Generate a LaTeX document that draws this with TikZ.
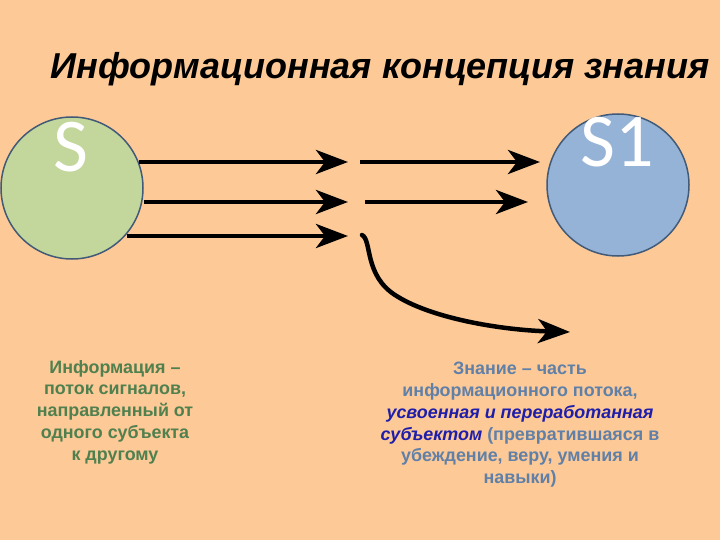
\documentclass[tikz,border=0pt]{standalone}
\usepackage{fontspec}
\setmainfont{Liberation Sans}
\newfontfamily\calib{Carlito}
\usetikzlibrary{arrows.meta}
\definecolor{bgc}{RGB}{252,201,151}
\definecolor{greenfill}{RGB}{195,214,155}
\definecolor{bluefill}{RGB}{149,179,215}
\definecolor{rimc}{RGB}{65,90,120}
\definecolor{greentxt}{RGB}{80,128,78}
\definecolor{graytxt}{RGB}{96,128,168}
\definecolor{bluetxt}{RGB}{30,30,170}
\tikzset{
  subj/.style={circle, draw=rimc, line width=1.5pt, minimum size=142pt, inner sep=0pt},
  lbl/.style={text=white, font=\calib\fontsize{76}{76}\selectfont, inner sep=0pt},
  flow/.style={line width=4.5pt, -{Stealth[length=32pt,width=24pt,inset=9pt]}},
  txt/.style={align=center, font=\bfseries\fontsize{17.9}{21.8}\selectfont, inner sep=0pt}
}
\begin{document}
\begin{tikzpicture}[x=1pt,y=-1pt]
\fill[bgc] (0,0) rectangle (720,540);
\useasboundingbox (0,0) rectangle (720,540);
\node[font=\bfseries\itshape\fontsize{36}{36}\selectfont, anchor=base] (title) at (380,79) {Информационная концепция знания};
\node[subj, fill=greenfill] (s) at (72,188) {};
\node[subj, fill=bluefill] (s1) at (618,185) {};
\node[lbl, anchor=base] (sl) at (71,172) {S};
\node[lbl, anchor=base] (s1l) at (617,167) {S1};
\coordinate (a1s) at (139,162); \coordinate (a1e) at (348,162);
\coordinate (a2s) at (144,202); \coordinate (a2e) at (348,202);
\coordinate (a3s) at (127,236); \coordinate (a3e) at (348,236);
\coordinate (b1s) at (360,162); \coordinate (b1e) at (540,162);
\coordinate (b2s) at (365,202); \coordinate (b2e) at (528,202);
\coordinate (cs) at (362,235); \coordinate (ce) at (570,332);
\draw[flow] (a1s) -- (a1e);
\draw[flow] (a2s) -- (a2e);
\draw[flow] (a3s) -- (a3e);
\draw[flow] (b1s) -- (b1e);
\draw[flow] (b2s) -- (b2e);
\draw[flow, line cap=round] (cs) .. controls (372,240) and (364,275) .. (395,295) .. controls (430,318) and (500,330) .. (ce);
\node[txt, text=greentxt, anchor=north] (info) at (115,360) {Информация –\\поток сигналов,\\направленный от\\одного субъекта\\к другому};
\node[txt, text=graytxt, anchor=north] (know) at (520,362) {Знание – часть\\информационного потока,\\{\color{bluetxt}\itshape усвоенная и переработанная}\\{\color{bluetxt}\itshape субъектом} (превратившаяся в\\убеждение, веру, умения и\\навыки)};
\end{tikzpicture}
\end{document}
